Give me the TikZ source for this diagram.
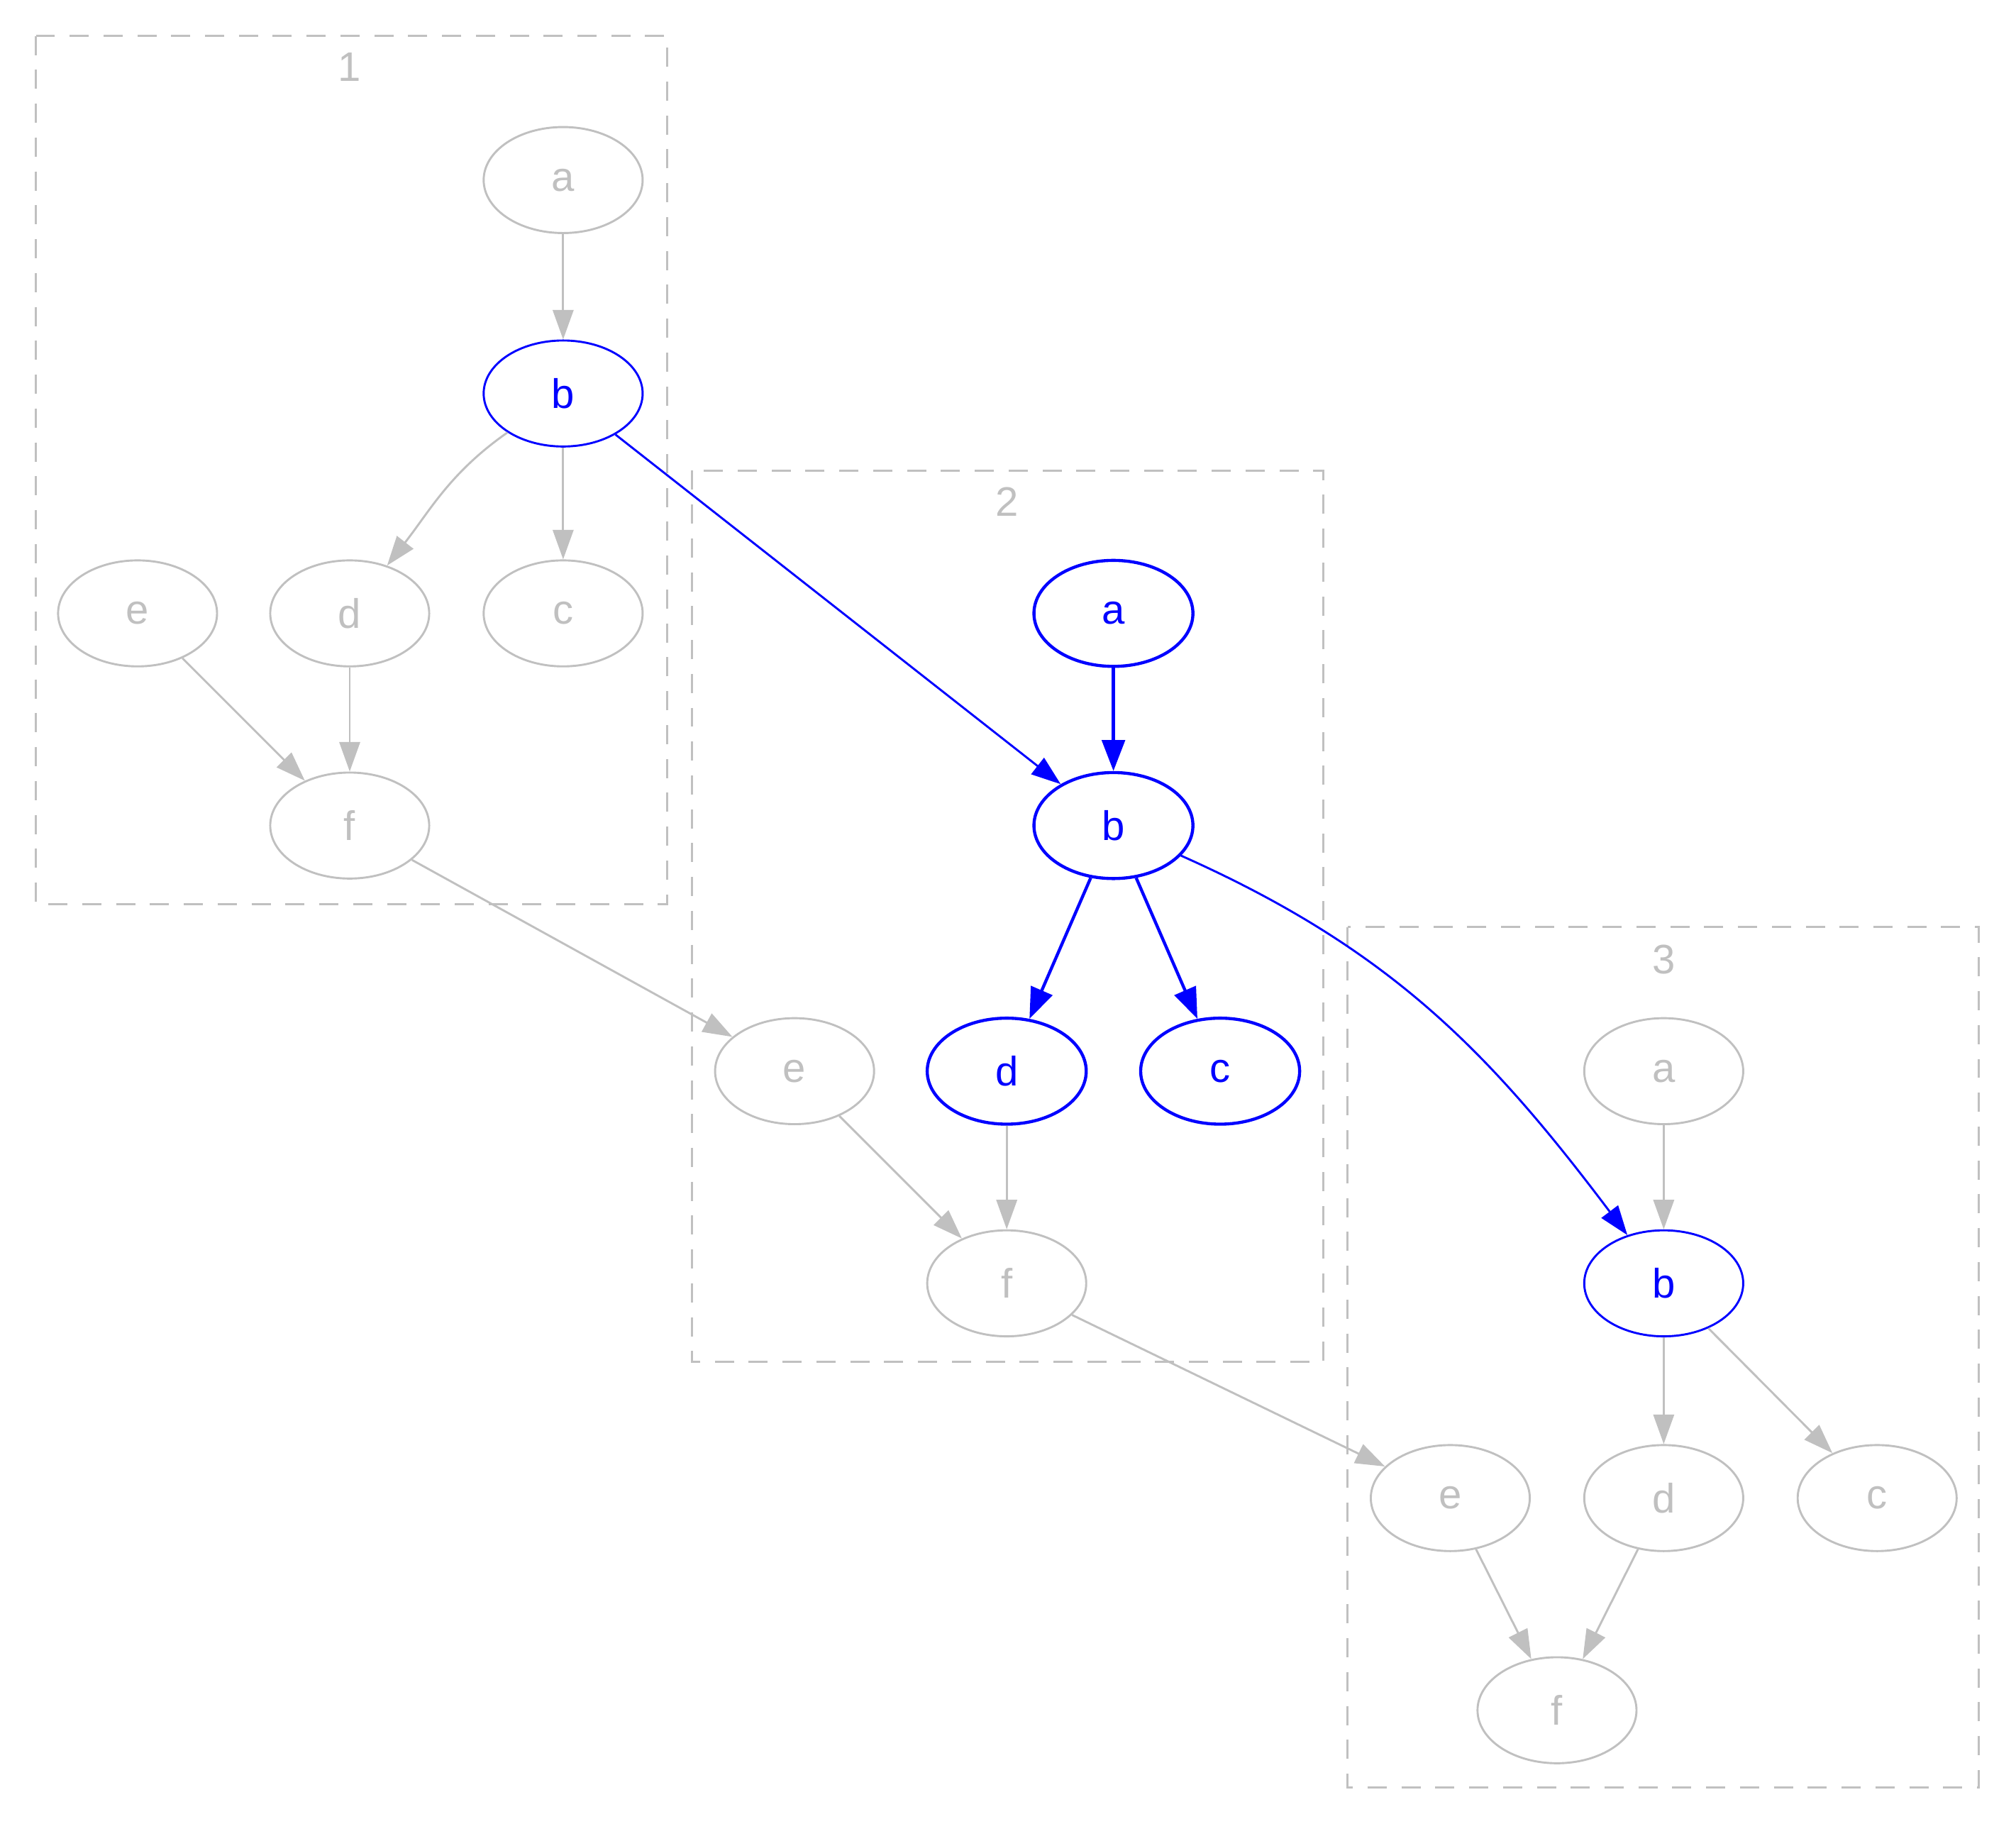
\documentclass[tikz,border=0pt]{standalone}
\usepackage{fontspec}
\setmainfont{Liberation Sans}
\usetikzlibrary{shapes.geometric,arrows.meta}
\definecolor{lgray}{RGB}{192,192,192}
\begin{document}
\begin{tikzpicture}[
  x=0.4367pt, y=-0.4367pt,
  nd/.style={ellipse, draw=lgray, text=lgray, line width=0.7pt,
    minimum width=54pt, minimum height=36pt, inner sep=0pt,
    font=\fontsize{14}{16}\selectfont},
  hot/.style={draw=blue, text=blue},
  heavy/.style={line width=1.05pt},
  lbl/.style={text=lgray, inner sep=0pt, font=\fontsize{14}{16}\selectfont},
  cbox/.style={draw=lgray, line width=0.7pt, dash pattern=on 6.5pt off 5pt},
  edge/.style={draw=lgray, line width=0.7pt, -{Triangle[length=10pt,width=7pt]}},
  hedge/.style={draw=blue, line width=0.7pt, -{Triangle[length=10pt,width=7pt]}},
  bedge/.style={draw=blue, line width=1.05pt, -{Triangle[length=10.5pt,width=7.8pt]}},
]
\useasboundingbox (0,0) rectangle (1568,1418);

% cluster frames and titles
\draw[cbox] (28,28) rectangle (519,703);
\draw[cbox] (538,366) rectangle (1029,1059);
\draw[cbox] (1048,721) rectangle (1539,1390);
\node[lbl] (t1) at (272,52) {1};
\node[lbl] (t2) at (783,390) {2};
\node[lbl] (t3) at (1294,746) {3};

% cluster 1
\node[nd] (a1) at (438,140) {a};
\node[nd,hot] (b1) at (438,306) {b};
\node[nd] (e1) at (107,477) {e};
\node[nd] (d1) at (272,477) {d};
\node[nd] (c1) at (438,477) {c};
\node[nd] (f1) at (272,642) {f};

% cluster 2
\node[nd,hot,heavy] (a2) at (866,477) {a};
\node[nd,hot,heavy] (b2) at (866,642) {b};
\node[nd] (e2) at (618,833) {e};
\node[nd,hot,heavy] (d2) at (783,833) {d};
\node[nd,hot,heavy] (c2) at (949,833) {c};
\node[nd] (f2) at (783,998) {f};

% cluster 3
\node[nd] (a3) at (1294,833) {a};
\node[nd,hot] (b3) at (1294,998) {b};
\node[nd] (e3) at (1128,1165) {e};
\node[nd] (d3) at (1294,1165) {d};
\node[nd] (c3) at (1460,1165) {c};
\node[nd] (f3) at (1211,1330) {f};

% edges inside cluster 1
\draw[edge] (a1) -- (b1);
\draw[edge] (b1) to[out=215, in=52] (d1);
\draw[edge] (b1) -- (c1);
\draw[edge] (e1) -- (f1);
\draw[edge] (d1) -- (f1);

% edges inside cluster 2
\draw[bedge] (a2) -- (b2);
\draw[bedge] (b2) -- (d2);
\draw[bedge] (b2) -- (c2);
\draw[edge] (e2) -- (f2);
\draw[edge] (d2) -- (f2);

% edges inside cluster 3
\draw[edge] (a3) -- (b3);
\draw[edge] (b3) -- (d3);
\draw[edge] (b3) -- (c3);
\draw[edge] (e3) -- (f3);
\draw[edge] (d3) -- (f3);

% edges between clusters
\draw[hedge] (b1) -- (b2);
\draw[hedge] (b2) to[out=-24, in=127] (b3);
\draw[edge] (f1) -- (e2);
\draw[edge] (f2) -- (e3);
\end{tikzpicture}
\end{document}
